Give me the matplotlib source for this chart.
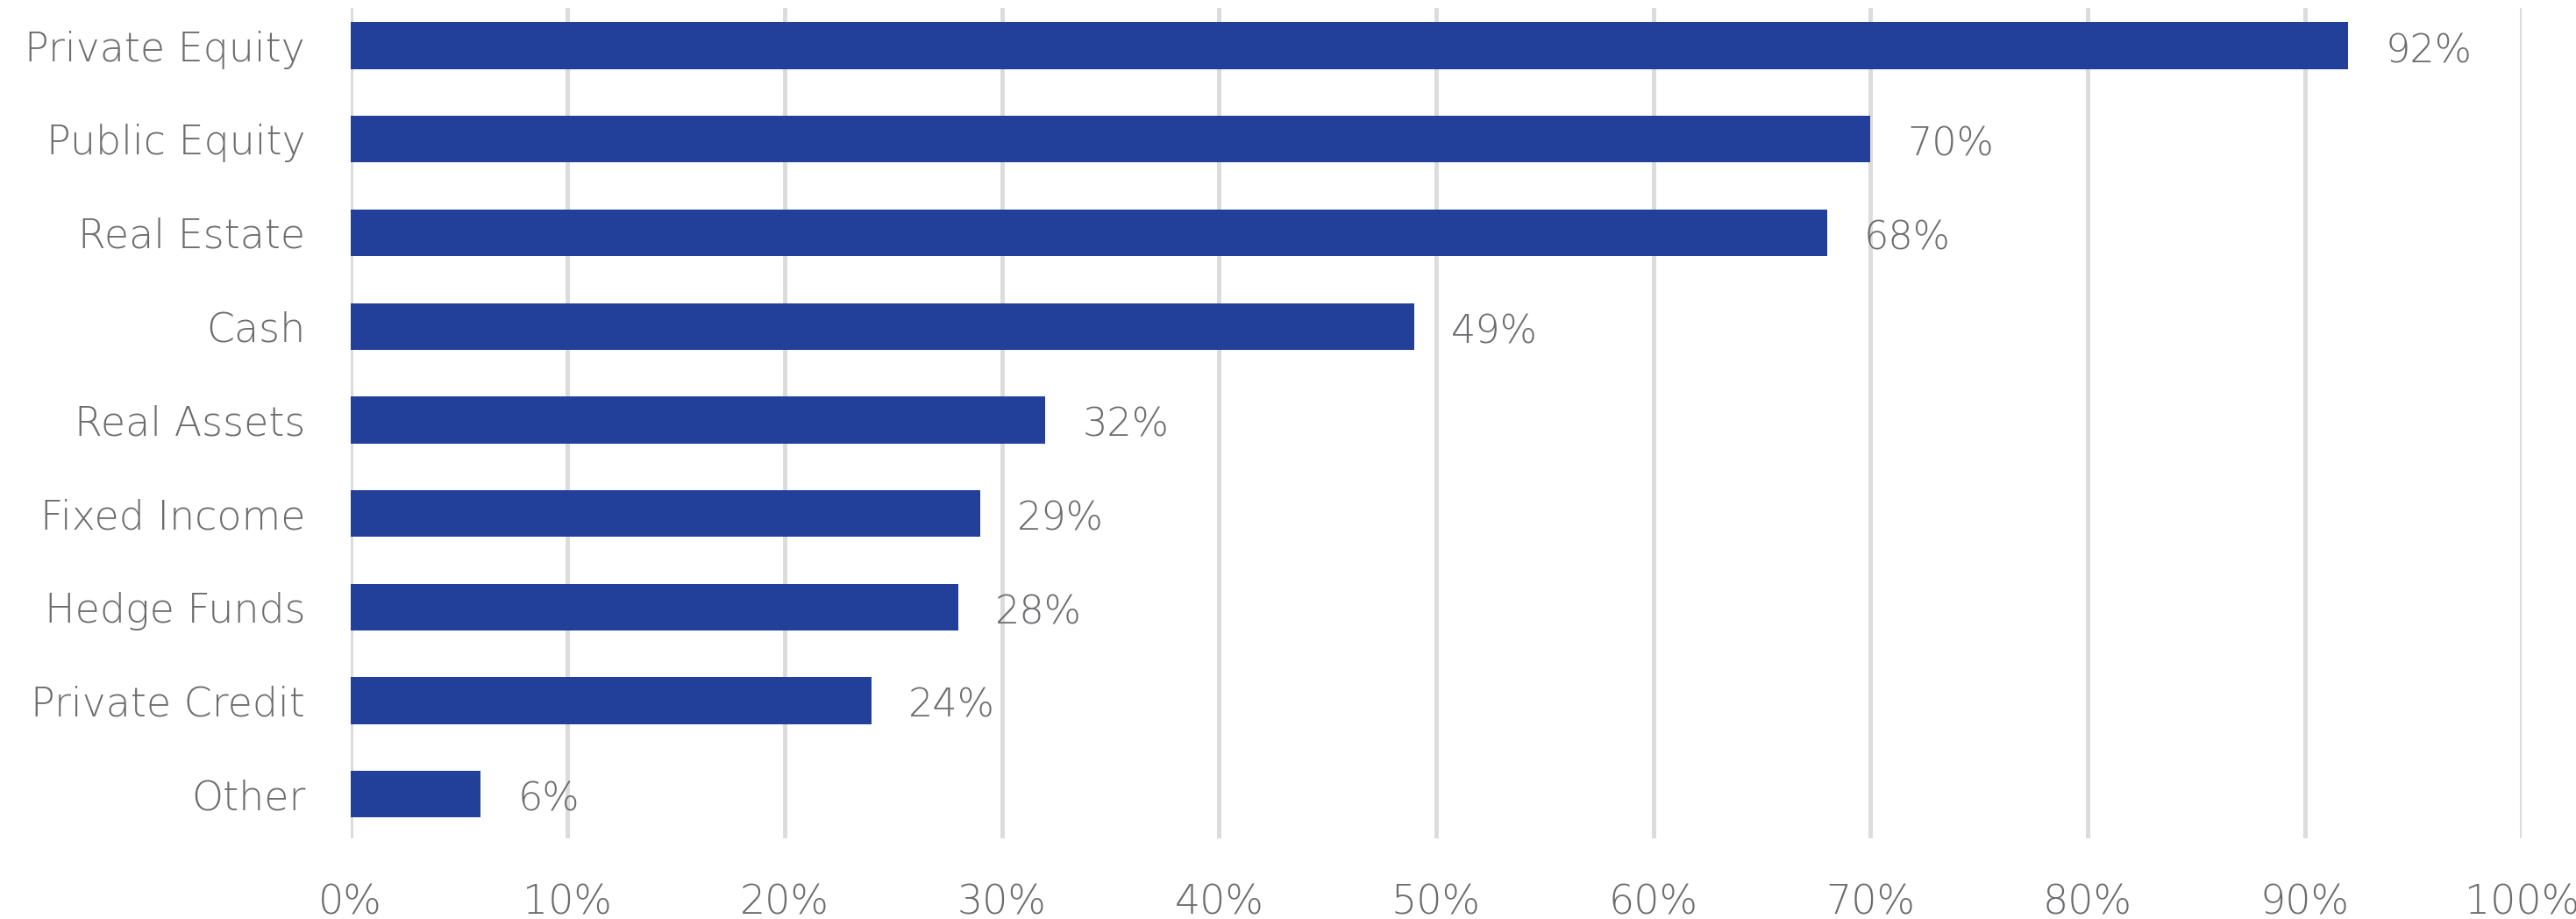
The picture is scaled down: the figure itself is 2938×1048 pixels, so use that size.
import matplotlib
matplotlib.use("Agg")
import matplotlib.pyplot as plt

categories = ["Private Equity", "Public Equity", "Real Estate", "Cash", "Real Assets",
              "Fixed Income", "Hedge Funds", "Private Credit", "Other"]
values = [92, 70, 68, 49, 32, 29, 28, 24, 6]
xticks = [0, 10, 20, 30, 40, 50, 60, 70, 80, 90, 100]

bar_color = "#22409a"
text_color = "#6b6b70"
grid_color = "#dcdcdc"

plt.rcParams["font.family"] = ["DejaVu Sans"]

fig = plt.figure(figsize=(29.38, 10.48), dpi=100)
ax = fig.add_axes([0.136, 0.088, 0.843, 0.903])

ypos = list(range(len(categories)))
ax.barh(ypos, values, height=0.5, color=bar_color, zorder=3)

# value labels sit a touch below bar centre in the original
for y, v in zip(ypos, values):
    ax.text(v + 1.7, y + 0.06, f"{v}%", va="center", ha="left", fontsize=32,
            color=text_color, fontweight="light")

ax.set_xlim(0, 100)
ax.set_ylim(8.47, -0.4)
ax.set_xticks(xticks)
ax.set_xticklabels([f"{t}%" for t in xticks])
ax.set_yticks(ypos)
ax.set_yticklabels(categories)

for lab in ax.get_xticklabels() + ax.get_yticklabels():
    lab.set_fontsize(33)
    lab.set_color(text_color)
    lab.set_fontweight("light")

ax.tick_params(axis="both", length=0)
ax.tick_params(axis="x", pad=37)
ax.tick_params(axis="y", pad=37)

ax.grid(axis="x", color=grid_color, linewidth=3.6, zorder=0)
for s in ax.spines.values():
    s.set_visible(False)

fig.savefig("out.png", dpi=100)
